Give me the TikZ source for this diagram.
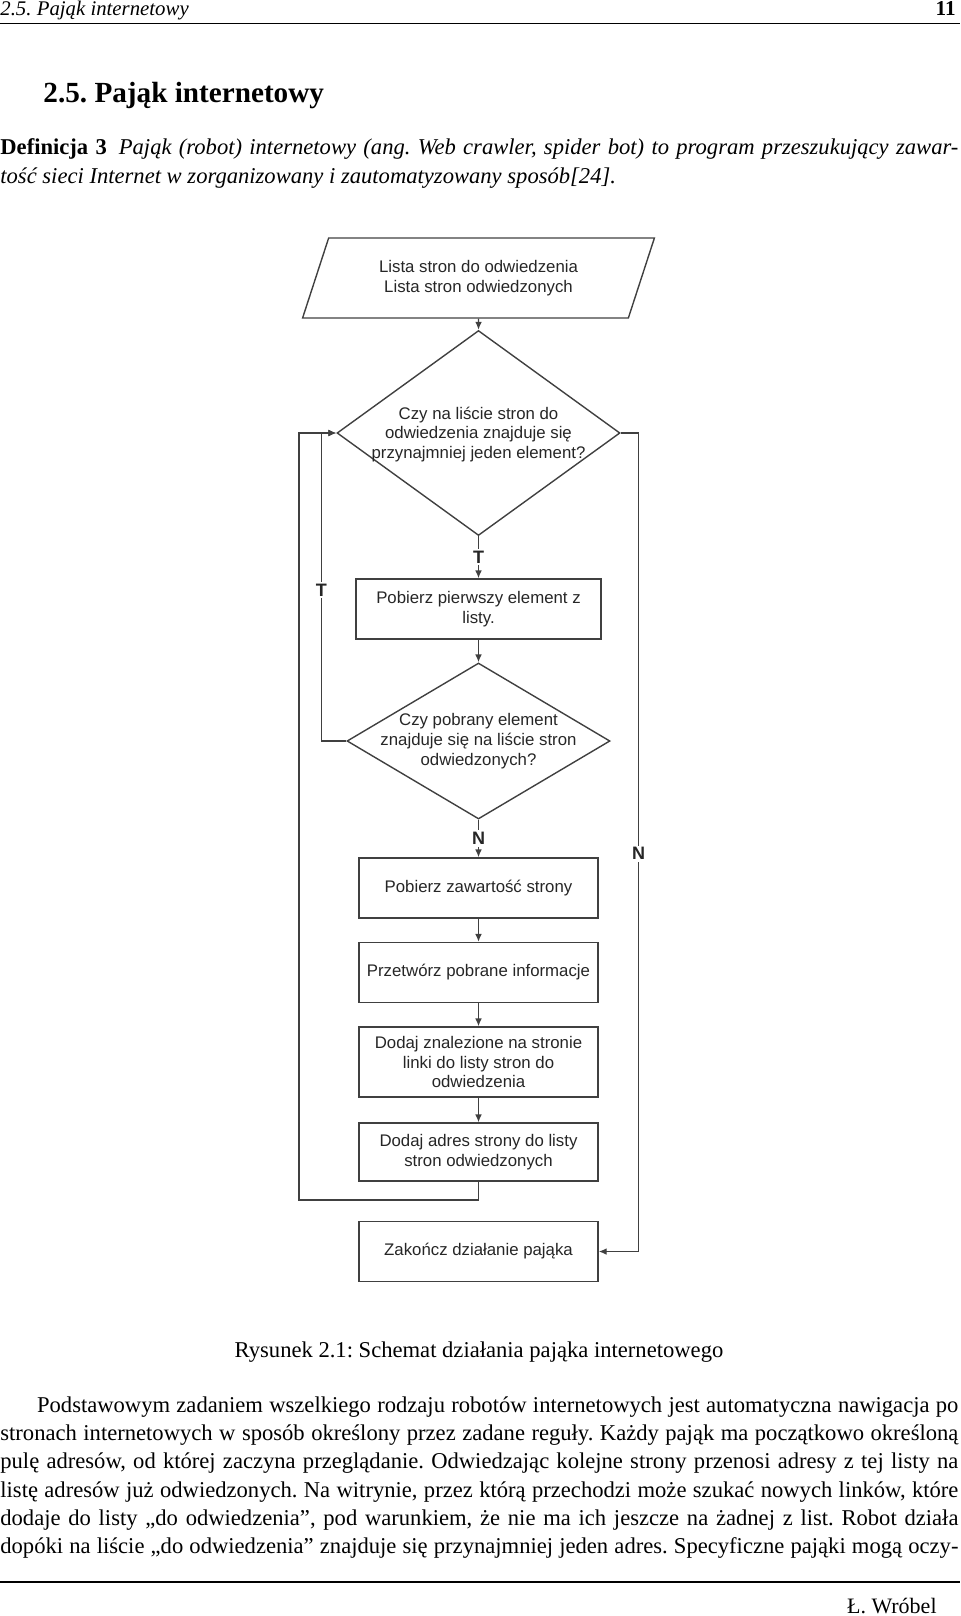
\documentclass[tikz,border=0pt]{standalone}
\usepackage{fontspec}
\setmainfont{Liberation Serif}
\newfontfamily\diagfont{Liberation Sans}
\usetikzlibrary{shapes.geometric,arrows.meta}
\definecolor{lc}{gray}{0.25}
\definecolor{tc}{gray}{0.15}
\tikzset{
  ln/.style={draw=lc, line width=0.7pt},
  arr/.style={ln, -{Latex[length=4pt,width=3.4pt]}},
  dfont/.style={font=\diagfont\fontsize{8.4}{9.9}\selectfont, text=tc, align=center},
  box/.style={ln, dfont, rectangle, minimum width=119.5pt, minimum height=30pt, inner sep=0pt},
  dia/.style={ln, diamond, inner sep=0pt},
  dtxt/.style={dfont, inner sep=0pt},
  lab/.style={font=\diagfont\bfseries\fontsize{9}{10}\selectfont, text=tc, fill=white, inner sep=1pt},
  bodyline/.style={font=\fontsize{11.3}{14.1}\selectfont\frenchspacing, inner sep=0pt, anchor=base west},
}
\begin{document}
\frenchspacing
\begin{tikzpicture}[x=0.5pt,y=-0.5pt]
\useasboundingbox (0,0) rectangle (960,1616);

% header
\node[anchor=base west, inner sep=0pt, font=\fontsize{10.4}{12}\selectfont\itshape] (hdr) at (0,16) {2.5. Pająk internetowy};
\node[anchor=base east, inner sep=0pt, font=\fontsize{10.6}{12}\selectfont\bfseries] (pg) at (956,16) {11};
\draw[line width=0.5pt] (0,24) -- (960,24);

% section heading
\node[anchor=base west, inner sep=0pt, font=\fontsize{14.6}{17}\selectfont\bfseries] (sec) at (43,103) {2.5. Pająk internetowy};

% definition
\node[bodyline] (def1) at (0,155) {\makebox[479pt][s]{\textbf{Definicja 3}\hspace{6pt}\textit{Pająk (robot) internetowy (ang. Web crawler, spider bot) to program przeszukujący zawar-}}};
\node[bodyline] (def2) at (0,184) {\textit{tość sieci Internet w zorganizowany i zautomatyzowany sposób[24].}};

% diagram
\node[ln, trapezium, trapezium left angle=64, trapezium right angle=116, trapezium stretches=true,
      minimum width=176pt, minimum height=40pt, inner sep=0pt, dfont] (par) at (478.5,278) {Lista stron do odwiedzenia\\Lista stron odwiedzonych};

\node[dia, minimum width=141.5pt, minimum height=102.5pt] (d1) at (478.5,433) {};
\node[dtxt] (d1t) at (478.5,434.5) {Czy na liście stron do\\odwiedzenia znajduje się\\przynajmniej jeden element?};

\node[box, minimum width=122.5pt] (b1) at (478.5,609) {Pobierz pierwszy element z\\listy.};

\node[dia, minimum width=131.5pt, minimum height=78pt] (d2) at (478.5,741) {};
\node[dtxt] (d2t) at (478.5,741) {Czy pobrany element\\znajduje się na liście stron\\odwiedzonych?};

\node[box] (b2) at (478.5,888) {Pobierz zawartość strony};
\node[box] (b3) at (478.5,972.5) {Przetwórz pobrane informacje};
\node[box, minimum height=35pt] (b4) at (478.5,1062) {Dodaj znalezione na stronie\\linki do listy stron do\\odwiedzenia};
\node[box, minimum height=29pt] (b5) at (478.5,1152) {Dodaj adres strony do listy\\stron odwiedzonych};
\node[box] (b6) at (478.5,1251.5) {Zakończ działanie pająka};

\draw[arr] (par.south) -- (d1.north);
\draw[arr] (d1.south) -- node[lab]{T} (b1.north);
\draw[arr] (b1.south) -- (d2.north);
\draw[arr] (d2.south) -- node[lab]{N} (b2.north);
\draw[arr] (b2.south) -- (b3.north);
\draw[arr] (b3.south) -- (b4.north);
\draw[arr] (b4.south) -- (b5.north);
\draw[arr] (d2.west) -- ++(-25,0) |- node[lab,pos=0.245]{T} (d1.west);
\coordinate (lp) at (299,1200);
\draw[arr] (b5.south) |- (lp) |- (d1.west);
\draw[arr] (d1.east) -- ++(18,0) |- node[lab,pos=0.257]{N} (b6.east);

% caption
\node[anchor=base, inner sep=0pt, font=\fontsize{11.3}{14}\selectfont] (cap) at (479,1357) {Rysunek 2.1: Schemat działania pająka internetowego};

% paragraph
\node[bodyline] (p1) at (36.7,1412) {\makebox[460.65pt][s]{Podstawowym zadaniem wszelkiego rodzaju robotów internetowych jest automatyczna nawigacja po}};
\node[bodyline] (p2) at (0,1440) {\makebox[479pt][s]{stronach internetowych w sposób określony przez zadane reguły. Każdy pająk ma początkowo określoną}};
\node[bodyline] (p3) at (0,1468) {\makebox[479pt][s]{pulę adresów, od której zaczyna przeglądanie. Odwiedzając kolejne strony przenosi adresy z tej listy na}};
\node[bodyline] (p4) at (0,1497) {\makebox[479pt][s]{listę adresów już odwiedzonych. Na witrynie, przez którą przechodzi może szukać nowych linków, które}};
\node[bodyline] (p5) at (0,1525) {\makebox[479pt][s]{dodaje do listy „do odwiedzenia”, pod warunkiem, że nie ma ich jeszcze na żadnej z list. Robot działa}};
\node[bodyline] (p6) at (0,1553) {\makebox[479pt][s]{dopóki na liście „do odwiedzenia” znajduje się przynajmniej jeden adres. Specyficzne pająki mogą oczy-}};

% footer
\draw[line width=0.6pt] (0,1582) -- (960,1582);
\node[anchor=base east, inner sep=0pt, font=\fontsize{11}{13}\selectfont] (ftr) at (937,1613) {Ł. Wróbel};
\end{tikzpicture}
\end{document}
